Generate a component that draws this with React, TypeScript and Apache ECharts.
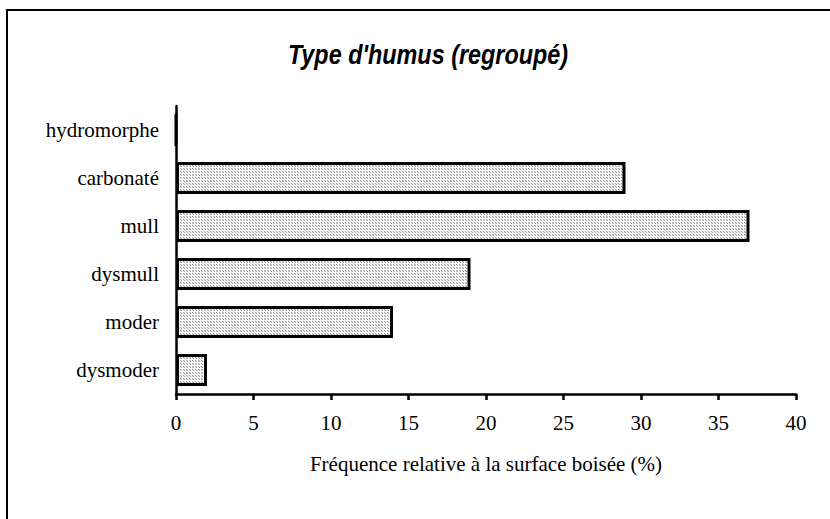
import React, { useEffect, useRef } from "react";
import * as echarts from "echarts";

const categories = ["dysmoder", "moder", "dysmull", "mull", "carbonaté", "hydromorphe"];
const values = [2, 14, 19, 37, 29, 0];
const xTicks = [0, 40, 5];
const titleText = "Type d'humus (regroupé)";
const axisTitle = "Fréquence relative à la surface boisée (%)";

function makePattern(): any {
  const c = document.createElement("canvas");
  c.width = 3;
  c.height = 3;
  const ctx = c.getContext("2d");
  if (!ctx) return "#d4d4d4";
  ctx.fillStyle = "#ffffff";
  ctx.fillRect(0, 0, 3, 3);
  ctx.fillStyle = "#a0a0a0";
  ctx.fillRect(0, 0, 1, 1);
  ctx.fillRect(1, 1, 1, 1);
  ctx.fillStyle = "#e0e0e0";
  ctx.fillRect(1, 0, 1, 1);
  ctx.fillRect(0, 1, 1, 1);
  return { image: c, repeat: "repeat" };
}

export default function App() {
  const ref = useRef<HTMLDivElement>(null);
  useEffect(() => {
    if (!ref.current) return;
    const chart = echarts.init(ref.current, null, { renderer: "svg" });
    const serif = "'Liberation Serif', 'Times New Roman', serif";
    chart.setOption({
      animation: false,
      backgroundColor: "#ffffff",
      graphic: [
        {
          type: "rect",
          shape: { x: 7, y: 10, width: 840, height: 540 },
          style: { fill: "none", stroke: "#000", lineWidth: 2 },
          silent: true,
        },
        {
          type: "text",
          x: 428,
          y: 54,
          scaleY: 1.17,
          style: {
            text: titleText,
            x: 0,
            y: 0,
            align: "center",
            verticalAlign: "middle",
            fontFamily: "'Liberation Sans', Arial, sans-serif",
            fontStyle: "italic",
            fontWeight: "bold",
            fontSize: 23.4,
            fill: "#000",
          },
          silent: true,
        },
      ],
      grid: { left: 176, right: 34, top: 106, bottom: 125 },
      xAxis: {
        type: "value",
        min: xTicks[0],
        max: xTicks[1],
        interval: xTicks[2],
        splitLine: { show: false },
        axisLine: { show: true, lineStyle: { color: "#000", width: 2.5 } },
        axisTick: { show: true, length: 6, lineStyle: { color: "#000", width: 2.5 } },
        axisLabel: { color: "#000", fontFamily: serif, fontSize: 21, margin: 18 },
        name: axisTitle,
        nameLocation: "middle",
        nameGap: 59,
        nameTextStyle: { color: "#000", fontFamily: serif, fontSize: 21 },
      },
      yAxis: {
        type: "category",
        data: categories,
        axisLine: { show: true, lineStyle: { color: "#000", width: 2.5 } },
        axisTick: { show: false },
        axisLabel: { color: "#000", fontFamily: serif, fontSize: 21, margin: 17 },
      },
      series: [
        {
          type: "bar",
          data: values,
          barWidth: 32,
          itemStyle: { color: makePattern(), borderColor: "#000", borderWidth: 3 },
        },
      ],
    });
    return () => chart.dispose();
  }, []);
  return (
    <div
      ref={ref}
      style={{ position: "absolute", left: 0, top: 0, width: 830, height: 519 }}
    />
  );
}
